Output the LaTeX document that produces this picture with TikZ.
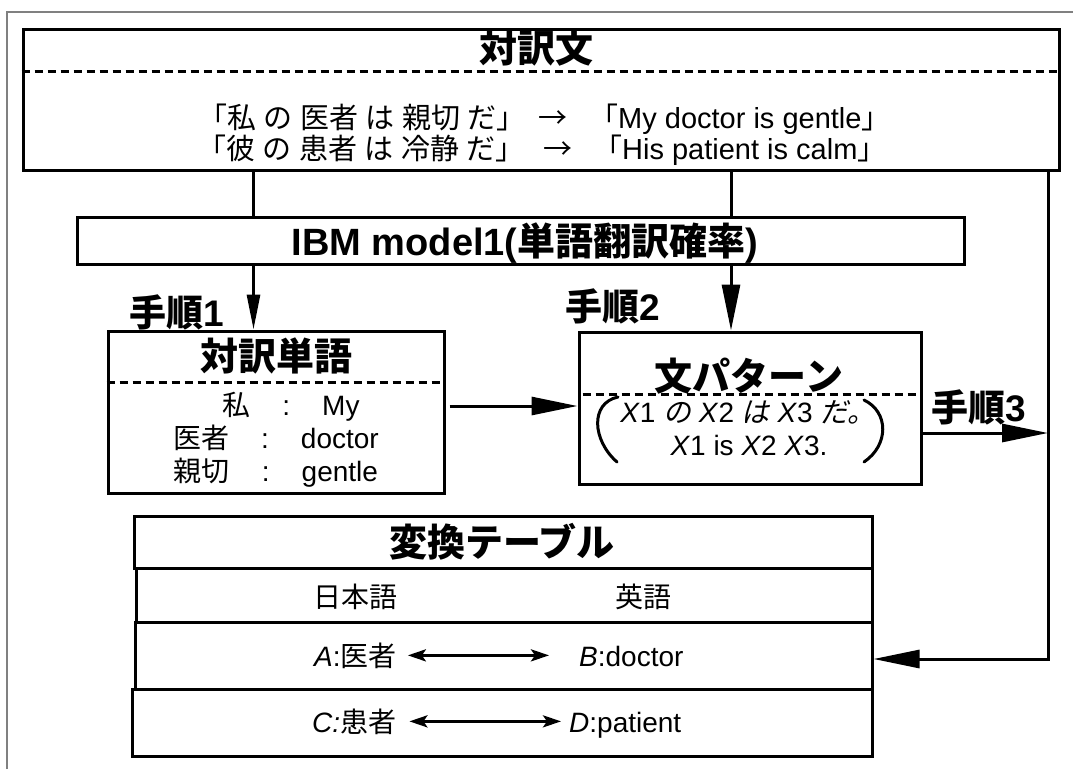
\documentclass[tikz,border=0pt]{standalone}
\usepackage{fontspec}
\setmainfont{Liberation Sans}
\newfontfamily\jp[WordSpace=1.15]{Noto Sans CJK JP}
\newfontfamily\jpsl[FakeSlant=0.2,WordSpace=1.15]{Noto Sans CJK JP}
\usetikzlibrary{arrows.meta}

\tikzset{
  box/.style={draw, line width=3pt, rectangle, inner sep=0pt},
  lbl/.style={inner sep=0pt, anchor=base},
  body/.style={font=\fontsize{28}{32}\selectfont},
  bodybig/.style={font=\fontsize{29}{33}\selectfont},
  ttl/.style={font=\fontsize{38}{42}\selectfont\bfseries},
  stepfont/.style={font=\fontsize{37}{41}\selectfont\bfseries},
  sep/.style={line width=3pt, dash pattern=on 8pt off 5pt},
  conn/.style={line width=3pt},
  bigarrow/.style={conn, -{Triangle[length=46pt,width=18pt]}},
  midarrow/.style={conn, -{Triangle[length=35pt,width=13pt]}},
  dbl/.style={conn, {Stealth[length=18pt,width=12pt,inset=4pt]}-{Stealth[length=18pt,width=12pt,inset=4pt]}},
  paren/.style={line width=3pt, line cap=round},
}

\begin{document}
\begin{tikzpicture}[x=1pt, y=-1pt]
\useasboundingbox (0,0) rectangle (1073,769);
\fill[white] (0,0) rectangle (1073,769);

% outer frame
\draw[gray, line width=1.5pt] (7,769) -- (7,12) -- (1073,12);

% helper columns and rows
\coordinate (c1) at (253.5,0);
\coordinate (c2) at (731,0);
\coordinate (c3) at (1048,0);
\coordinate (midrow) at (0,406);
\coordinate (r3) at (1048,433);
\coordinate (turn) at (1048,659);

% --- parallel sentences
\node[box, minimum width=1036pt, minimum height=141pt] (pair) at (541,99.5) {};
\draw[sep] (pair.west |- 0,71) -- (pair.east |- 0,71);
\node[lbl, ttl] (pairttl) at (536,62) {\jp 対訳文};
\node[lbl, bodybig, anchor=base east] (j1) at (526,128) {\jp 「私 の 医者 は 親切 だ」};
\node[lbl, bodybig] (a1) at (553,128) {\jp →};
\node[lbl, bodybig, anchor=base west] (e1) at (589,128) {{\jp 「}My doctor is gentle{\jp 」}};
\node[lbl, bodybig, anchor=base east] (j2) at (525,159) {\jp 「彼 の 患者 は 冷静 だ」};
\node[lbl, bodybig] (a2) at (557.5,159) {\jp →};
\node[lbl, bodybig, anchor=base west] (e2) at (593,159) {{\jp 「}His patient is calm{\jp 」}};

% --- IBM model 1
\node[box, minimum width=887pt, minimum height=47pt] (ibm) at (520.5,240.5) {};
\node[lbl, ttl] (ibmtxt) at (525,255) {IBM model1({\jp 単語翻訳確率})};

\draw[conn] (pair.south -| c1) -- (ibm.north -| c1);
\draw[conn] (pair.south -| c2) -- (ibm.north -| c2);

% --- word pairs
\node[box, minimum width=336pt, minimum height=162pt] (words) at (276,412) {};
\draw[sep] (words.west |- 0,382) -- (words.east |- 0,382);
\node[lbl, ttl] (wordsttl) at (276,370) {\jp 対訳単語};
\node[lbl, body] (w1) at (291,415) {{\jp 私}\hspace{32pt}:\hspace{32pt}My};
\node[lbl, body] (w2) at (276,448) {{\jp 医者}\hspace{32pt}:\hspace{32pt}doctor};
\node[lbl, body] (w3) at (276,481) {{\jp 親切}\hspace{32pt}:\hspace{32pt}gentle};

\node[lbl, stepfont, anchor=base west] (s1) at (129,326) {{\jp 手順}1};
\draw[midarrow] (ibm.south -| c1) -- (words.north -| c1);

% --- sentence pattern
\node[box, minimum width=342pt, minimum height=152pt] (pattern) at (750,408) {};
\draw[sep] ([xshift=5pt]pattern.west |- 0,394) -- (pattern.east |- 0,394);
\node[lbl, ttl] (patttl) at (749,390) {\jp 文パターン};
\node[lbl, body] (p1) at (748,422) {\textit{X}1 {\jpsl の} \textit{X}2 {\jpsl は} \textit{X}3 {\jpsl だ。}};
\node[lbl, body] (p2) at (749,455) {\textit{X}1 is \textit{X}2 \textit{X}3.};
\draw[paren] (618,397) .. controls (590,403) and (592,440) .. (617,462);
\draw[paren] (864,400) .. controls (889,412) and (889,445) .. (864,462);

\node[lbl, stepfont, anchor=base west] (s2) at (565,320) {{\jp 手順}2};
\draw[bigarrow] (ibm.south -| c2) -- (pattern.north -| c2);
\draw[bigarrow] ([xshift=4pt]words.east |- midrow) -- (pattern.west |- midrow);

% --- step 3
\node[lbl, stepfont, anchor=base west] (s3) at (931,421) {{\jp 手順}3};
\draw[bigarrow] (pattern.east |- r3) -- (r3);

% --- conversion table
\node[box, minimum width=738pt, minimum height=52pt] (t1) at (503,542) {};
\node[box, minimum width=736pt, minimum height=54pt] (t2) at (504,595) {};
\node[box, minimum width=737pt, minimum height=67pt] (t3) at (503.5,655.5) {};
\node[box, minimum width=740pt, minimum height=67pt] (t4) at (502,722.5) {};

\node[lbl, ttl] (tabttl) at (502,556) {\jp 変換テーブル};
\node[lbl, body] (hja) at (355.5,607) {\jp 日本語};
\node[lbl, body] (hen) at (643.5,607) {\jp 英語};
\node[lbl, body, anchor=base west] (ta) at (314,666) {\textit{A}:{\jp 医者}};
\node[lbl, body, anchor=base west] (tb) at (579,666) {\textit{B}:doctor};
\node[lbl, body, anchor=base west] (tc) at (312,732) {\textit{C:}{\jp 患者}};
\node[lbl, body, anchor=base west] (td) at (569,732) {\textit{D}:patient};
\draw[dbl, shorten <=11pt, shorten >=30pt] (ta.east) -- (ta.east -| tb.west);
\draw[dbl, shorten <=13pt, shorten >=8pt] (tc.east) -- (tc.east -| td.west);

% feedback line into the table
\draw[bigarrow] (pair.south -| turn) -- (turn) -- (turn -| t3.east);
\end{tikzpicture}
\end{document}
